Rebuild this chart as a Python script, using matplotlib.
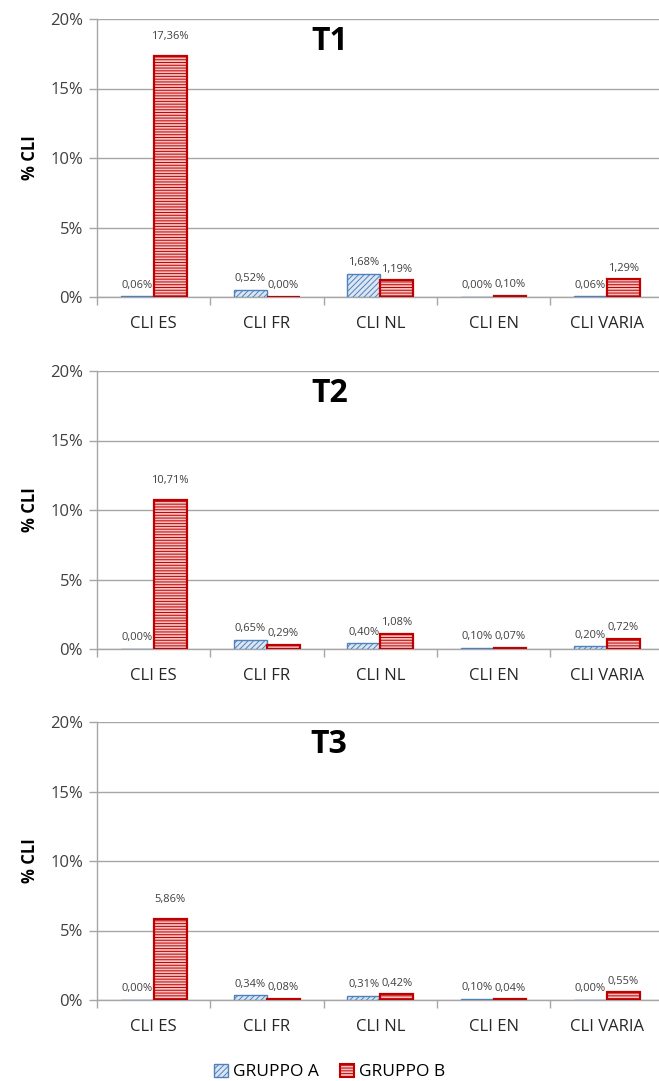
# CLI per gruppo, tre tempi

import numpy as np
import matplotlib.pyplot as plt
from matplotlib.patches import Patch

categories = ["CLI ES", "CLI FR", "CLI NL", "CLI EN", "CLI VARIA"]
periods = ["T1", "T2", "T3"]
gruppo_a = [
    [0.06, 0.52, 1.68, 0.00, 0.06],
    [0.00, 0.65, 0.40, 0.10, 0.20],
    [0.00, 0.34, 0.31, 0.10, 0.00],
]
gruppo_b = [
    [17.36, 0.00, 1.19, 0.10, 1.29],
    [10.71, 0.29, 1.08, 0.07, 0.72],
    [5.86, 0.08, 0.42, 0.04, 0.55],
]
yticks = [0, 5, 10, 15, 20]

plt.rcParams["font.family"] = ["Open Sans", "DejaVu Sans"]
plt.rcParams["hatch.linewidth"] = 0.7

blue_edge = "#4F81BD"
blue_face = "#DCE6F2"
red_edge = "#C00000"
red_face = "#F4C0C0"
grid_col = "#A6A6A6"

W, H = 659, 1081
fig = plt.figure(figsize=(W / 100, H / 100), dpi=100)

x = np.arange(len(categories))
bw = 0.29
tops = [19, 371, 722]
ph = 278
left = 97
cat_w = 113.3

def fmt(v):
    return f"{v:.2f}".replace(".", ",") + "%"

for k, name in enumerate(periods):
    ax_w = cat_w * len(categories)
    ax = fig.add_axes([left / W, 1 - (tops[k] + ph) / H, ax_w / W, ph / H])
    ax.set_xlim(-0.5, len(categories) - 0.5)
    ax.set_ylim(0, 20)

    ba = ax.bar(x - bw / 2, gruppo_a[k], bw, facecolor=blue_face, edgecolor=blue_edge,
                hatch="//////", linewidth=1.0, zorder=3)
    bb = ax.bar(x + bw / 2, gruppo_b[k], bw, facecolor=red_face, edgecolor=red_edge,
                hatch="------", linewidth=1.6, zorder=3)

    for rect, v in zip(ba, gruppo_a[k]):
        ax.annotate(fmt(v), (rect.get_x() + rect.get_width() / 2, v), xytext=(0, 4),
                    textcoords="offset points", ha="center", va="bottom", fontsize=8, color="#404040")
    for rect, v in zip(bb, gruppo_b[k]):
        off = 10 if v > 5 else 4
        ax.annotate(fmt(v), (rect.get_x() + rect.get_width() / 2, v), xytext=(0, off),
                    textcoords="offset points", ha="center", va="bottom", fontsize=8, color="#404040")

    ax.set_yticks(yticks)
    ax.set_yticklabels([f"{t}%" for t in yticks], fontsize=12, color="#404040")
    ax.yaxis.grid(True, color=grid_col, linewidth=1.0, zorder=0)
    ax.set_axisbelow(True)

    ax.set_xticks(x)
    ax.set_xticklabels(categories, fontsize=12, color="#262626")
    ax.set_xticks(np.arange(len(categories) + 1) - 0.5, minor=True)
    ax.tick_params(axis="x", which="major", length=0, pad=14)
    ax.tick_params(axis="x", which="minor", length=6, color=grid_col, width=1.0)
    ax.tick_params(axis="y", length=6, color=grid_col, width=1.0, pad=4)

    for s in ["top", "right"]:
        ax.spines[s].set_visible(False)
    for s in ["left", "bottom"]:
        ax.spines[s].set_color(grid_col)
        ax.spines[s].set_linewidth(1.0)

    ax.set_ylabel("% CLI", fontsize=12, fontweight="bold", labelpad=8)
    ax.text(0.41, 0.92, name, transform=ax.transAxes, fontsize=23, fontweight="bold",
            ha="center", va="center")

handles = [
    Patch(facecolor=blue_face, edgecolor=blue_edge, hatch="//////", label="GRUPPO A"),
    Patch(facecolor=red_face, edgecolor=red_edge, hatch="------", linewidth=1.5, label="GRUPPO B"),
]
fig.legend(handles=handles, loc="center", bbox_to_anchor=(0.5, 1 - 1072 / H), ncol=2,
           frameon=False, fontsize=12.5, handlelength=0.8, handleheight=0.8,
           handletextpad=0.3, columnspacing=1.2)

fig.savefig("out.png", dpi=100)
